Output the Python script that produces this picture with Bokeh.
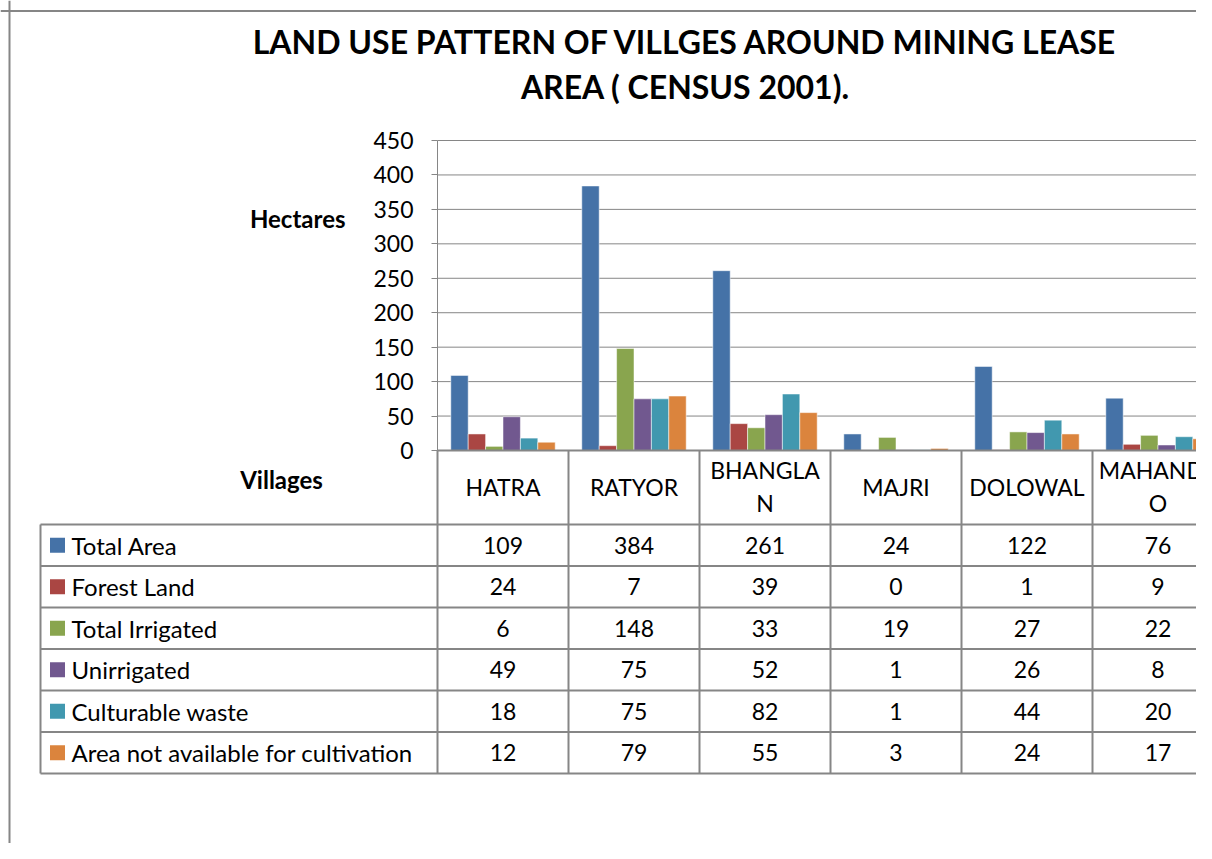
from bokeh.plotting import figure
from bokeh.models import Range1d, FixedTicker, Span
from bokeh.core.properties import value
from bokeh.embed import file_html
from bokeh.resources import INLINE

# ---------------- data ----------------
villages = ["HATRA", "RATYOR", "BHANGLAN", "MAJRI", "DOLOWAL", "MAHANDEO"]
village_labels = ["HATRA", "RATYOR", "BHANGLA\nN", "MAJRI", "DOLOWAL", "MAHANDE\nO"]
series_names = ["Total Area", "Forest Land", "Total Irrigated", "Unirrigated",
                "Culturable waste", "Area not available for cultivation"]
total_area = [109, 384, 261, 24, 122, 76]
forest_land = [24, 7, 39, 0, 1, 9]
total_irrigated = [6, 148, 33, 19, 27, 22]
unirrigated = [49, 75, 52, 1, 26, 8]
culturable_waste = [18, 75, 82, 1, 44, 20]
not_available = [12, 79, 55, 3, 24, 17]
series_values = [total_area, forest_land, total_irrigated, unirrigated,
                 culturable_waste, not_available]
colors = ["#4572A7", "#AA4643", "#89A54E", "#71588F", "#4198AF", "#DB843D"]
y_ticks = [0, 50, 100, 150, 200, 250, 300, 350, 400, 450]
title_lines = ["LAND USE PATTERN OF VILLGES AROUND MINING LEASE",
               "AREA ( CENSUS 2001)."]
y_title = "Hectares"
x_title = "Villages"

# ---------------- layout (pixels) ----------------
W, H = 1196, 843
PLOT_LEFT = 437
CAT_W = 131.0
Y0_PX = 450.0
PX_PER_UNIT = 310.0 / 450.0
GRAY = "#868686"
FONT = "Lato"


def X(px):
    return (px - PLOT_LEFT) / CAT_W


def Y(py):
    return (Y0_PX - py) / PX_PER_UNIT


p = figure(width=W, height=H, output_backend="svg", toolbar_location=None,
           x_range=Range1d(X(0), X(W)), y_range=Range1d(Y(H), Y(0)),
           x_axis_location=None, min_border=0, outline_line_color=None)
p.xgrid.visible = False
p.ygrid.visible = False

n = len(villages)
x_end = X(W) + 1

# gridlines (from ticks)
p.segment(x0=[0] * len(y_ticks), x1=[x_end] * len(y_ticks), y0=y_ticks, y1=y_ticks,
          line_color=GRAY, line_width=1)

# y axis at data x = 0
ax = p.yaxis[0]
ax.fixed_location = 0
ax.bounds = (0, 450)
ax.ticker = FixedTicker(ticks=y_ticks)
ax.axis_line_color = GRAY
ax.major_tick_line_color = GRAY
ax.major_tick_in = 0
ax.major_tick_out = 6
ax.minor_tick_line_color = None
ax.major_label_text_font = FONT
ax.major_label_text_font_size = "23px"
ax.major_label_text_color = "black"
ax.major_label_standoff = 18

# bars
BW = 17.4 / CAT_W
ns = len(series_values)
for k, (vals, col) in enumerate(zip(series_values, colors)):
    xs = [i + 0.5 + (k - (ns - 1) / 2) * BW for i in range(n)]
    p.vbar(x=xs, top=vals, bottom=0, width=BW, fill_color=col,
           line_color="white", line_alpha=0.5, line_width=1)

# ---------------- data table ----------------
HEADER_BOTTOM = 524.0
ROW_H = 41.5
TABLE_LEFT = 40
row_tops = [HEADER_BOTTOM + r * ROW_H for r in range(ns + 1)]

# horizontal lines
p.segment(x0=[0], x1=[x_end], y0=[0], y1=[0], line_color=GRAY, line_width=2)
p.segment(x0=[X(TABLE_LEFT)] * len(row_tops), x1=[x_end] * len(row_tops),
          y0=[Y(t) for t in row_tops], y1=[Y(t) for t in row_tops],
          line_color=GRAY, line_width=2)
# vertical lines
p.segment(x0=list(range(n + 1)), x1=list(range(n + 1)), y0=[0] * (n + 1),
          y1=[Y(row_tops[-1])] * (n + 1), line_color=GRAY, line_width=2)
p.segment(x0=[X(TABLE_LEFT)], x1=[X(TABLE_LEFT)], y0=[Y(row_tops[0])],
          y1=[Y(row_tops[-1])], line_color=GRAY, line_width=2)

# header labels
p.text(x=[i + 0.5 for i in range(n)], y=[Y((Y0_PX + HEADER_BOTTOM) / 2 - 1)] * n,
       text=village_labels, text_align="center", text_baseline="middle",
       text_font=value(FONT), text_font_size="23px", text_color="black",
       text_line_height=1.18)

# rows
row_centers = [Y(t + ROW_H / 2) for t in row_tops[:-1]]
p.scatter(x=[X(57)] * ns, y=row_centers, marker="square", size=15,
          fill_color=colors, line_color=None)
p.text(x=[X(71)] * ns, y=row_centers, text=series_names, text_align="left",
       text_baseline="middle", text_font=value(FONT), text_font_size="24px",
       text_color="black")
for k, vals in enumerate(series_values):
    p.text(x=[i + 0.5 for i in range(n)], y=[row_centers[k]] * n,
           text=[str(v) for v in vals], text_align="center", text_baseline="middle",
           text_font=value(FONT), text_font_size="23px", text_color="black")

# titles
p.text(x=[X(685)] * 2, y=[Y(41), Y(86)], text=title_lines, text_align="center",
       text_baseline="middle", text_font=value(FONT), text_font_size="32px",
       text_font_style="bold", text_color="black")
p.text(x=[X(345)], y=[Y(218)], text=[y_title], text_align="right",
       text_baseline="middle", text_font=value(FONT), text_font_size="24px",
       text_font_style="bold", text_color="black")
p.text(x=[X(281)], y=[Y(479)], text=[x_title], text_align="center",
       text_baseline="middle", text_font=value(FONT), text_font_size="24px",
       text_font_style="bold", text_color="black")

# chart border (left and top)
p.add_layout(Span(location=X(9), dimension="height", line_color=GRAY, line_width=2))
p.add_layout(Span(location=Y(10.5), dimension="width", line_color=GRAY, line_width=2))

open("out.html", "w").write(file_html(p, INLINE))
